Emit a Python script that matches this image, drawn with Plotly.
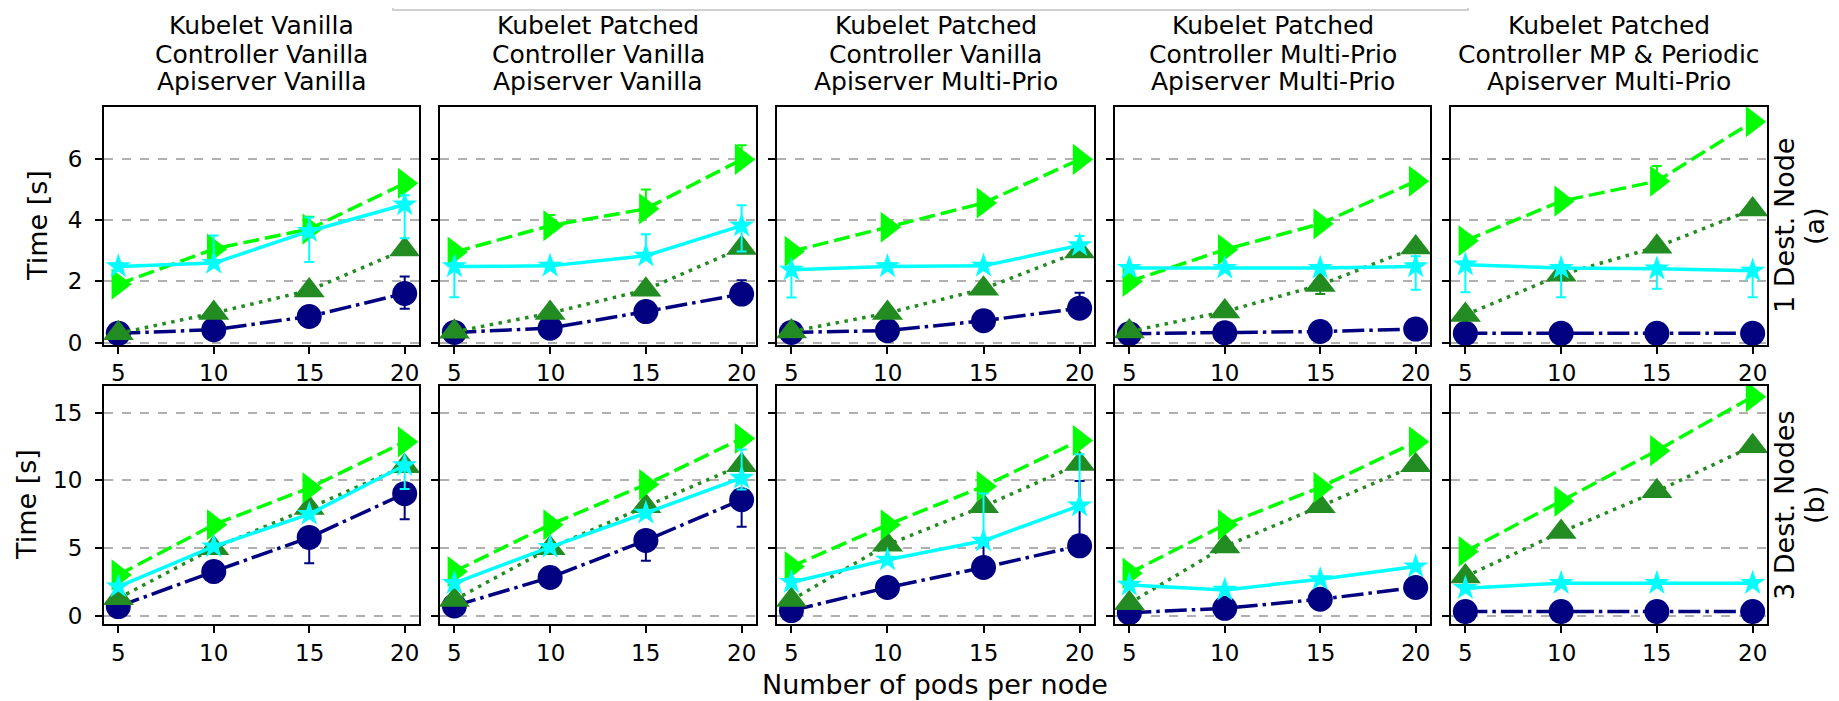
import plotly.graph_objects as go

# ---------------- data ----------------
pods = [5, 10, 15, 20]
pod_labels = ["5", "10", "15", "20"]
ticks_a = [0, 2, 4, 6]
ticks_b = [0, 5, 10, 15]
titles = [
    ["Kubelet Vanilla", "Controller Vanilla", "Apiserver Vanilla"],
    ["Kubelet Patched", "Controller Vanilla", "Apiserver Vanilla"],
    ["Kubelet Patched", "Controller Vanilla", "Apiserver Multi-Prio"],
    ["Kubelet Patched", "Controller Multi-Prio", "Apiserver Multi-Prio"],
    ["Kubelet Patched", "Controller MP & Periodic", "Apiserver Multi-Prio"],
]
row_labels = [["1 Dest. Node", "(a)"], ["3 Dest. Nodes", "(b)"]]

# row (a): 1 destination node
circle_a = [[0.30, 0.42, 0.85, 1.60], [0.33, 0.47, 1.01, 1.58], [0.33, 0.39, 0.71, 1.12],
            [0.29, 0.32, 0.36, 0.44], [0.30, 0.30, 0.30, 0.30]]
triup_a = [[0.30, 0.96, 1.70, 3.03], [0.35, 0.96, 1.72, 3.08], [0.36, 0.96, 1.75, 2.97],
           [0.36, 1.01, 1.88, 3.10], [0.90, 2.21, 3.12, 4.34]]
triright_a = [[1.90, 3.05, 3.70, 5.19], [2.95, 3.81, 4.36, 5.97], [2.97, 3.76, 4.55, 5.97],
              [1.99, 3.03, 3.87, 5.26], [3.32, 4.61, 5.26, 7.20]]
star_a = [[2.48, 2.59, 3.63, 4.50], [2.48, 2.50, 2.83, 3.81], [2.37, 2.48, 2.50, 3.17],
          [2.43, 2.43, 2.43, 2.48], [2.54, 2.43, 2.41, 2.34]]

# row (b): 3 destination nodes
circle_b = [[0.67, 3.26, 5.78, 9.02], [0.72, 2.82, 5.56, 8.57], [0.37, 2.08, 3.56, 5.16],
            [0.22, 0.54, 1.21, 2.08], [0.30, 0.30, 0.30, 0.30]]
triup_b = [[1.28, 4.99, 7.96, 11.05], [1.16, 4.99, 8.08, 11.12], [1.16, 5.24, 8.08, 11.22],
           [0.91, 5.11, 8.08, 11.12], [2.89, 6.18, 9.19, 12.53]]
triright_b = [[3.01, 6.72, 9.44, 12.85], [3.26, 6.72, 9.69, 13.10], [3.63, 6.72, 9.56, 12.95],
              [3.14, 6.72, 9.49, 12.85], [4.74, 8.45, 12.20, 16.19]]
star_b = [[2.15, 5.11, 7.51, 11.12], [2.40, 5.07, 7.59, 10.18], [2.47, 4.13, 5.53, 8.13],
          [2.27, 1.90, 2.69, 3.63], [2.03, 2.40, 2.40, 2.40]]

# error bars (upper / lower extents)
circle_a_up = [[0.1, 0.1, 0.1, 0.55], [0.1, 0.1, 0.1, 0.45], [0.1, 0.1, 0.1, 0.5], [0.1, 0.1, 0.1, 0.1], [0.1, 0.1, 0.1, 0.1]]
circle_a_dn = [[0.1, 0.1, 0.1, 0.5], [0.1, 0.1, 0.1, 0.3], [0.1, 0.1, 0.1, 0.3], [0.1, 0.1, 0.1, 0.1], [0.1, 0.1, 0.1, 0.1]]
triup_a_up = [[0.1, 0.1, 0.1, 0.1]] * 5
triup_a_dn = [[0.1, 0.1, 0.1, 0.1], [0.1, 0.1, 0.1, 0.1], [0.1, 0.1, 0.1, 0.1], [0.1, 0.1, 0.3, 0.1], [0.1, 0.1, 0.1, 0.1]]
triright_a_up = [[0.1, 0.1, 0.4, 0.1], [0.1, 0.35, 0.63, 0.46], [0.1, 0.1, 0.1, 0.1], [0.1, 0.1, 0.1, 0.1], [0.2, 0.1, 0.5, 0.1]]
triright_a_dn = [[0.1, 0.1, 0.1, 0.1]] * 5
star_a_up = [[0.1, 0.9, 0.45, 0.3], [0.1, 0.1, 0.7, 0.67], [0.1, 0.1, 0.1, 0.3], [0.1, 0.1, 0.1, 0.33], [0.1, 0.1, 0.1, 0.1]]
star_a_dn = [[0.1, 0.1, 1.0, 1.1], [1.0, 0.1, 0.1, 0.84], [0.9, 0.1, 0.1, 0.1], [0.1, 0.1, 0.1, 0.76], [0.9, 0.95, 0.66, 0.86]]

circle_b_up = [[0.1, 0.1, 0.1, 0.1], [0.1, 0.1, 0.1, 0.1], [0.1, 0.1, 1.8, 4.8], [0.1, 0.1, 0.1, 0.1], [0.1, 0.1, 0.1, 0.1]]
circle_b_dn = [[0.1, 0.8, 1.9, 1.9], [0.1, 0.1, 1.5, 2.0], [0.1, 0.1, 0.1, 0.1], [0.1, 0.1, 0.1, 0.1], [0.1, 0.1, 0.1, 0.1]]
triup_b_up = [[0.2, 0.2, 0.2, 0.2]] * 5
triup_b_dn = [[0.2, 0.2, 0.2, 0.2]] * 5
triright_b_up = [[0.2, 0.2, 0.2, 0.2]] * 5
triright_b_dn = [[0.2, 0.2, 0.2, 0.2]] * 5
star_b_up = [[0.1, 0.1, 0.1, 0.1], [0.1, 0.1, 0.1, 2.1], [0.1, 0.1, 3.5, 3.8], [0.1, 0.1, 0.1, 0.1], [0.1, 0.1, 0.1, 0.1]]
star_b_dn = [[0.1, 0.1, 0.1, 1.75], [0.1, 0.1, 0.1, 0.85], [0.1, 0.1, 0.1, 0.1], [0.1, 0.1, 0.1, 0.1], [0.1, 0.1, 0.1, 0.1]]

# ---------------- styles ----------------
FONT = "DejaVu Sans"
series_style = [
    # (values rows, err up rows, err dn rows, color, symbol, size, dash)
    ((circle_a, circle_b), (circle_a_up, circle_b_up), (circle_a_dn, circle_b_dn),
     "#000080", "circle", 25, "22px,5px,3.5px,5px"),
    ((triup_a, triup_b), (triup_a_up, triup_b_up), (triup_a_dn, triup_b_dn),
     "#228B22", "triangle-up", 27, "3.5px,5.5px"),
    ((triright_a, triright_b), (triright_a_up, triright_b_up), (triright_a_dn, triright_b_dn),
     "#00FF00", "triangle-right", 27, "16px,6px"),
    ((star_a, star_b), (star_a_up, star_b_up), (star_a_dn, star_b_dn),
     "#00FFFF", "star", 19, "solid"),
]

W, H = 1839, 701
L, R, T, B = 96, 80, 99, 85
PW = W - L - R
PH = H - T - B
panel_px = [(96, 411), (432, 748), (769, 1086), (1107, 1422), (1443, 1759)]
row_px = [(99, 337), (378, 616)]
xlabel_y = [365, 645]
yranges = [[-0.08, 7.68], [-0.62, 16.98]]
yticks = [ticks_a, ticks_b]


def fx(px):
    return (px - L) / PW


def fy(py):
    return (H - B - py) / PH


fig = go.Figure()
layout = {}
annotations = []
for r in range(2):
    for c in range(5):
        n = r * 5 + c + 1
        sfx = "" if n == 1 else str(n)
        layout["xaxis" + sfx] = dict(
            domain=[fx(panel_px[c][0]), fx(panel_px[c][1])],
            anchor="y" + sfx, range=[4.25, 20.75], tickvals=pods,
            ticks="outside", ticklen=7, tickwidth=2, tickcolor="black",
            showline=True, mirror=True, linecolor="black", linewidth=2,
            showgrid=False, zeroline=False, showticklabels=False,
        )
        layout["yaxis" + sfx] = dict(
            domain=[fy(row_px[r][1]), fy(row_px[r][0])],
            anchor="x" + sfx, range=yranges[r], tickvals=yticks[r],
            ticks="outside", ticklen=7, tickwidth=2, tickcolor="black",
            showline=True, mirror=True, linecolor="black", linewidth=2,
            showgrid=True, gridcolor="#b0b0b0", griddash="dash", gridwidth=1.5,
            zeroline=False, showticklabels=(c == 0), ticklabelstandoff=8,
            tickfont=dict(family=FONT, size=23, color="black"),
        )
        # x tick labels
        for xv, lab in zip(pods, pod_labels):
            annotations.append(dict(
                text=lab, x=xv, xref="x" + sfx, y=fy(xlabel_y[r]), yref="paper",
                xanchor="center", yanchor="middle", showarrow=False,
                font=dict(family=FONT, size=23, color="black")))
        for vals, ups, dns, color, symbol, size, dash in series_style:
            fig.add_trace(go.Scatter(
                x=pods, y=vals[r][c], xaxis="x" + sfx, yaxis="y" + sfx,
                mode="lines+markers", showlegend=False,
                line=dict(color=color, width=3.5, dash=dash),
                marker=dict(symbol=symbol, size=size, color=color, line=dict(width=0)),
                error_y=dict(type="data", symmetric=False, array=ups[r][c],
                             arrayminus=dns[r][c], color=color, thickness=2, width=5),
            ))

title_y = [18, 46, 74]
for c in range(5):
    cx = fx((panel_px[c][0] + panel_px[c][1]) / 2)
    for i, line in enumerate(titles[c]):
        annotations.append(dict(
            text=line, x=cx, y=fy(title_y[i]), xref="paper", yref="paper",
            xanchor="center", yanchor="middle", showarrow=False,
            font=dict(family=FONT, size=25, color="black")))

# y-axis titles
annotations.append(dict(text="Time [s]", x=fx(29), y=fy(218), xref="paper", yref="paper",
                        textangle=-90, xanchor="center", yanchor="middle", showarrow=False,
                        font=dict(family=FONT, size=27, color="black")))
annotations.append(dict(text="Time [s]", x=fx(18), y=fy(497), xref="paper", yref="paper",
                        textangle=-90, xanchor="center", yanchor="middle", showarrow=False,
                        font=dict(family=FONT, size=27, color="black")))
# row labels on the right
for r in range(2):
    yc = fy((row_px[r][0] + row_px[r][1]) / 2)
    for px, txt in zip((1776, 1806), row_labels[r]):
        annotations.append(dict(text=txt, x=fx(px), y=yc,
                                xref="paper", yref="paper", textangle=-90,
                                xanchor="center", yanchor="middle", showarrow=False,
                                font=dict(family=FONT, size=27, color="black")))
# x-axis title
annotations.append(dict(text="Number of pods per node", x=fx(927), y=fy(676),
                        xref="paper", yref="paper", xanchor="center", yanchor="middle",
                        showarrow=False, font=dict(family=FONT, size=27, color="black")))

shapes = [dict(type="rect", xref="paper", yref="paper",
               x0=fx(385), x1=fx(1460), y0=fy(2), y1=fy(-30),
               line=dict(color="#d0d0d0", width=2), fillcolor="white", layer="above")]

fig.update_layout(
    width=W, height=H, margin=dict(l=L, r=R, t=T, b=B),
    paper_bgcolor="white", plot_bgcolor="white",
    annotations=annotations, shapes=shapes,
    font=dict(family=FONT, size=23, color="black"),
    **layout,
)

fig.write_html("out.html")
